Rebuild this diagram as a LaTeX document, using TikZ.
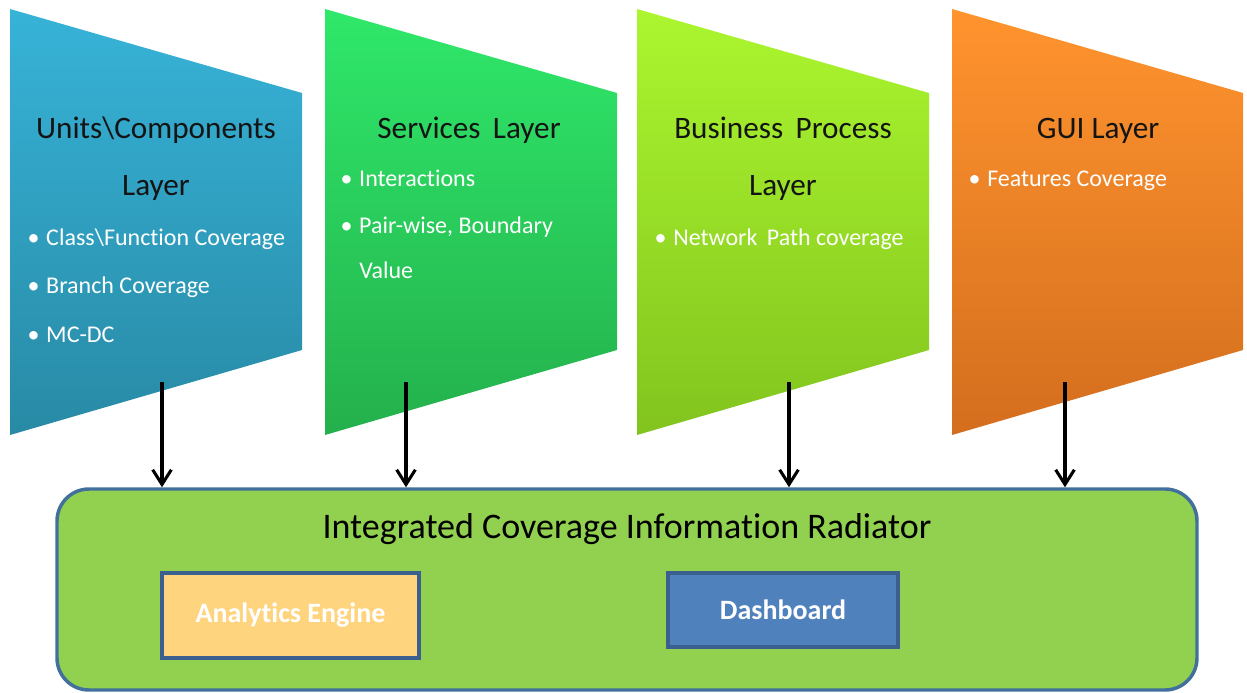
\documentclass[tikz,border=0pt]{standalone}
\usepackage{fontspec}
\setmainfont{Carlito}[Ligatures=NoCommon]
\usetikzlibrary{arrows.meta}
\definecolor{bluetop}{HTML}{37B3D8}
\definecolor{bluebot}{HTML}{288AA5}
\definecolor{greentop}{HTML}{2FE86A}
\definecolor{greenbot}{HTML}{24B04C}
\definecolor{limetop}{HTML}{ABF62F}
\definecolor{limebot}{HTML}{82C41E}
\definecolor{orangetop}{HTML}{FF942E}
\definecolor{orangebot}{HTML}{D46E1E}
\definecolor{radfill}{HTML}{92D050}
\definecolor{radborder}{HTML}{41709C}
\definecolor{aefill}{HTML}{FFD47F}
\definecolor{dbfill}{HTML}{4F81BD}
\definecolor{boxborder}{HTML}{3B5F8E}
\definecolor{titletext}{HTML}{141414}
\tikzset{
  layertitle/.style={anchor=base, inner sep=0pt, text=titletext, font=\fontsize{23.4pt}{28pt}\selectfont},
  bullettext/.style={anchor=base west, inner sep=0pt, text=white, font=\fontsize{18pt}{21pt}\selectfont},
  arr/.style={draw=black, line width=2.3pt, -{Straight Barb[length=11pt,width=14pt,line width=2.3pt]}},
  innerbox/.style={draw=boxborder, line width=2.3pt, text=white, font=\bfseries\fontsize{21pt}{25pt}\selectfont, inner sep=0pt}
}
\newcommand{\bul}{\llap{\textbullet\hspace{5pt}}}
\begin{document}
\begin{tikzpicture}[x=0.75pt,y=-0.75pt]
\useasboundingbox (0,0) rectangle (1247,693);
% layer shapes
\shade[top color=bluetop, bottom color=bluebot] (10,9) -- (302,93) -- (302,350) -- (10,435) -- cycle;
\shade[top color=greentop, bottom color=greenbot] (325,9) -- (617,93) -- (617,350) -- (325,435) -- cycle;
\shade[top color=limetop, bottom color=limebot] (637,9) -- (929,93) -- (929,350) -- (637,435) -- cycle;
\shade[top color=orangetop, bottom color=orangebot] (952,9) -- (1243,93) -- (1243,350) -- (952,435) -- cycle;
% layer texts
\node[layertitle] (t1a) at (156,138) {Units\textbackslash Components};
\node[layertitle] (t1b) at (156,195) {Layer};
\node[bullettext] (b1a) at (46,245) {\bul Class\textbackslash Function Coverage};
\node[bullettext] (b1b) at (46,293) {\bul Branch Coverage};
\node[bullettext] (b1c) at (46,342) {\bul MC-DC};
\node[layertitle] (t2a) at (469,138) {Services\hspace{4pt} Layer};
\node[bullettext] (b2a) at (359,186) {\bul Interactions};
\node[bullettext] (b2b) at (359,233) {\bul Pair-wise, Boundary};
\node[bullettext] (b2c) at (359,278) {Value};
\node[layertitle] (t3a) at (783,138) {Business\hspace{4pt} Process};
\node[layertitle] (t3b) at (783,195) {Layer};
\node[bullettext] (b3a) at (673,245) {\bul Network\hspace{3pt} Path coverage};
\node[layertitle] (t4a) at (1098,138) {GUI Layer};
\node[bullettext] (b4a) at (987,186) {\bul Features Coverage};
% radiator
\node[draw=radborder, fill=radfill, line width=2.6pt, rounded corners=24pt,
      minimum width=855pt, minimum height=150.75pt, inner sep=0pt] (rad) at (627,589.5) {};
\node[anchor=base, inner sep=0pt, text=black, font=\fontsize{27pt}{32pt}\selectfont] (radtitle) at (627,538) {Integrated Coverage Information Radiator};
\node[innerbox, fill=aefill, minimum width=192.75pt, minimum height=63.75pt] (ae) at (290.5,615.5) {Analytics Engine};
\node[innerbox, fill=dbfill, minimum width=172.5pt, minimum height=55.5pt] (db) at (783,610) {Dashboard};
% arrows
\coordinate (s1) at (162,382);
\coordinate (s2) at (406,382);
\coordinate (s3) at (789,382);
\coordinate (s4) at (1065,382);
\draw[arr] (s1) -- (s1 |- rad.north);
\draw[arr] (s2) -- (s2 |- rad.north);
\draw[arr] (s3) -- (s3 |- rad.north);
\draw[arr] (s4) -- (s4 |- rad.north);
\end{tikzpicture}
\end{document}
